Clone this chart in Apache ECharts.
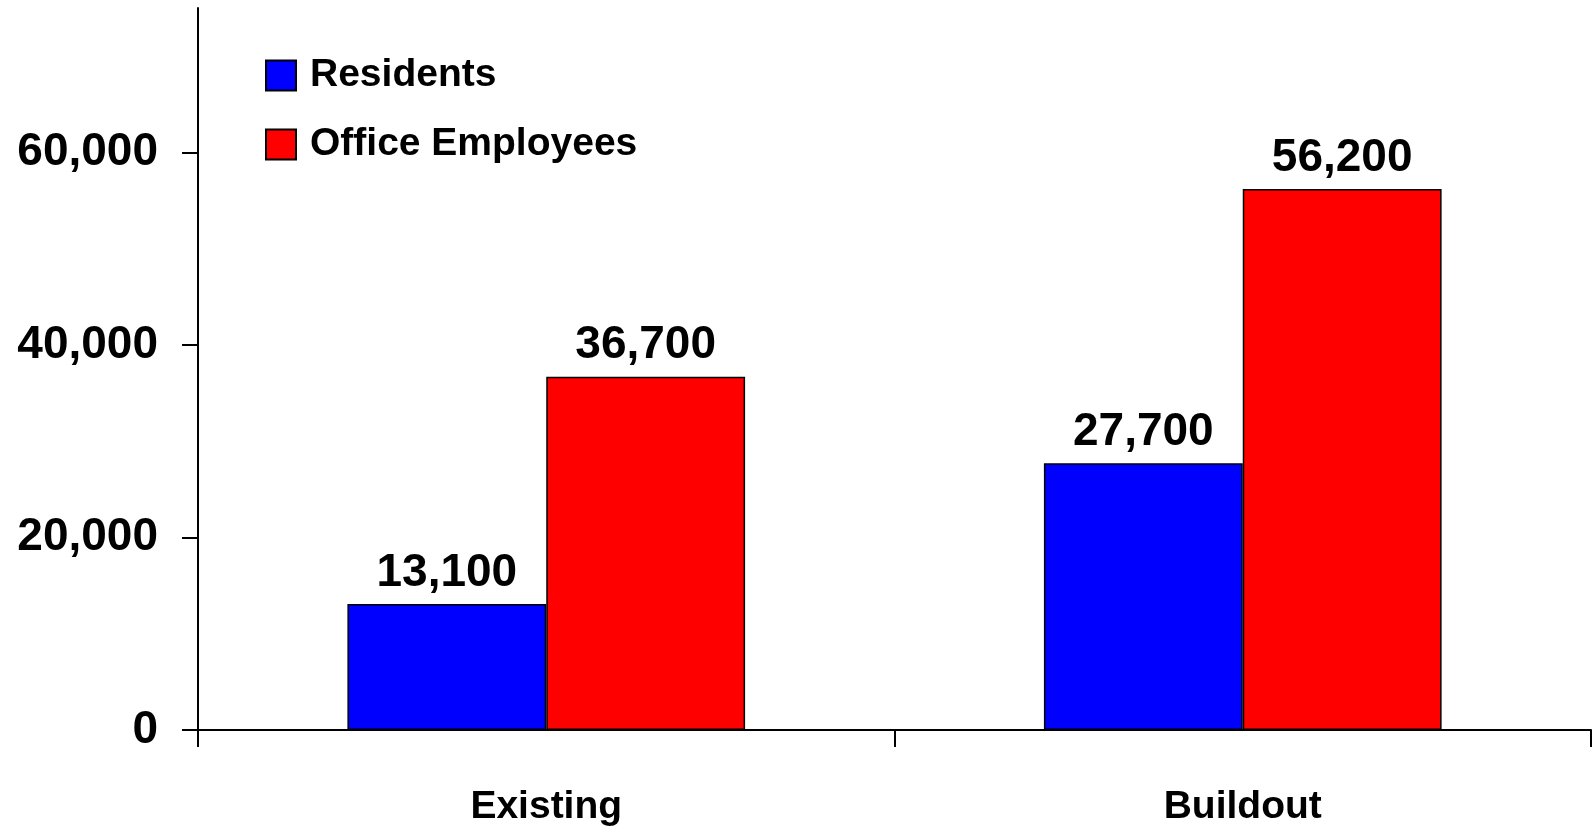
<!DOCTYPE html>
<html>
<head>
<meta charset="utf-8">
<style>
html,body{margin:0;padding:0;background:#fff;}
#chart{width:1595px;height:830px;}
</style>
<script src="https://cdn.jsdelivr.net/npm/echarts@6/dist/echarts.min.js"></script>
</head>
<body>
<div id="chart"></div>
<script>
const categories = ['Existing', 'Buildout'];
const residents = [13100, 27700];
const officeEmployees = [36700, 56200];
const yTicks = [0, 20000, 40000, 60000];

const FONT = '"Liberation Sans", Arial, sans-serif';
const fmt = v => Number(v).toLocaleString('en-US');

const chart = echarts.init(document.getElementById('chart'), null, {renderer: 'canvas'});
const barLabel = {
  show: true, position: 'top', distance: 8,
  fontFamily: FONT, fontWeight: 'bold', fontSize: 46, color: '#000',
  formatter: p => fmt(p.value)
};
chart.setOption({
  animation: false,
  backgroundColor: '#fff',
  grid: {left: 198, right: 4, top: 8, bottom: 100, containLabel: false},
  legend: {
    orient: 'vertical', left: 260, top: 51,
    itemWidth: 30, itemHeight: 30, itemGap: 30, icon: 'rect',
    textStyle: {fontFamily: FONT, fontWeight: 'bold', fontSize: 39, color: '#000', lineHeight: 30, padding: [0, 0, 0, 9]},
    data: ['Residents', 'Office Employees']
  },
  xAxis: {
    type: 'category', data: categories,
    axisLine: {lineStyle: {color: '#000', width: 2}},
    axisTick: {show: true, inside: false, length: 17, lineStyle: {color: '#000', width: 2}},
    axisLabel: {margin: 58, fontFamily: FONT, fontWeight: 'bold', fontSize: 39, color: '#000'},
    splitLine: {show: false}
  },
  yAxis: {
    type: 'value', min: 0, max: 75000,
    axisLine: {show: true, lineStyle: {color: '#000', width: 2}},
    axisTick: {show: true, inside: false, length: 16, lineStyle: {color: '#000', width: 2}, customValues: yTicks},
    axisLabel: {margin: 40, fontFamily: FONT, fontWeight: 'bold', fontSize: 46, color: '#000', customValues: yTicks, formatter: v => fmt(v)},
    splitLine: {show: false}
  },
  series: [
    {name: 'Residents', type: 'bar', data: residents, barGap: '0%', barCategoryGap: '42.9%',
     itemStyle: {color: '#0000FF', borderColor: '#000', borderWidth: 1.5}, label: barLabel},
    {name: 'Office Employees', type: 'bar', data: officeEmployees, barGap: '0%', barCategoryGap: '42.9%',
     itemStyle: {color: '#FF0000', borderColor: '#000', borderWidth: 1.5}, label: barLabel}
  ]
});
</script>
</body>
</html>
